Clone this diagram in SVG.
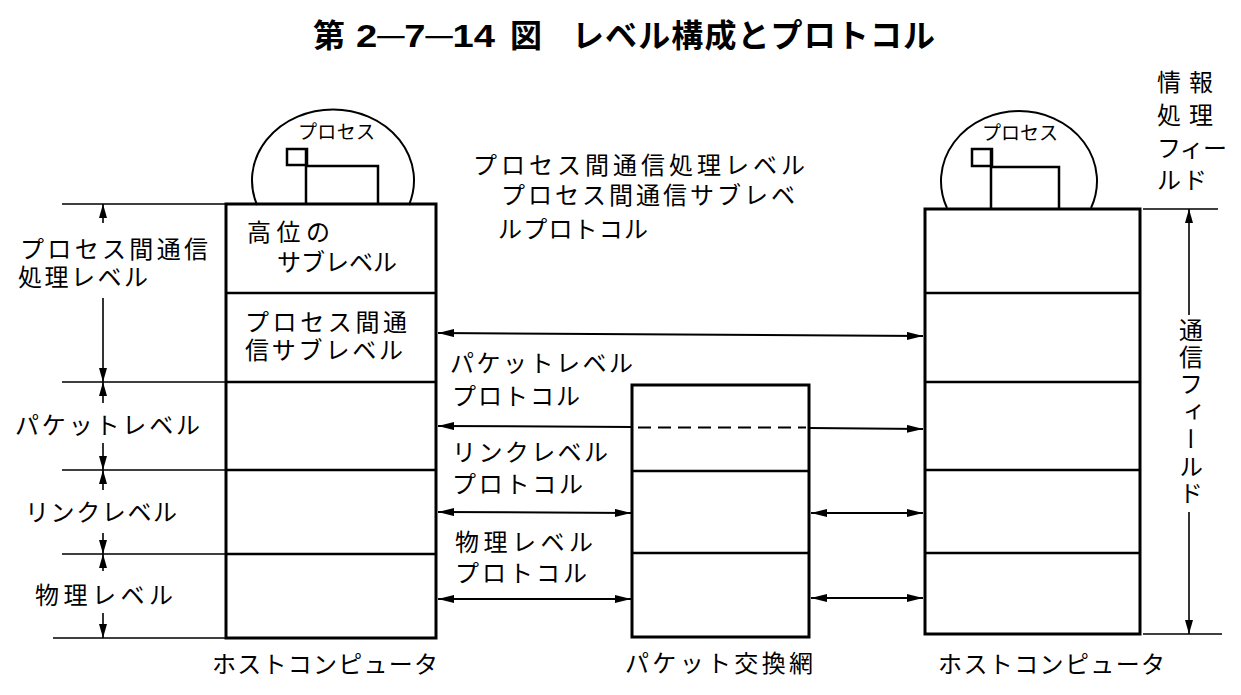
<svg xmlns="http://www.w3.org/2000/svg" width="1241" height="695" viewBox="0 0 1241 695">
<style>
.t{font-family:"Liberation Sans","Noto Sans CJK JP","Noto Sans CJK SC",sans-serif;font-size:24px;fill:#000}
.ti{font-family:"Liberation Sans","Noto Sans CJK JP","Noto Sans CJK SC",sans-serif;font-size:32px;font-weight:bold;fill:#000}
.sm{font-size:19px}
.box{fill:none;stroke:#000;stroke-width:3}
.div{stroke:#000;stroke-width:2.5;fill:none}
.thin{stroke:#000;stroke-width:1.6;fill:none}
.arc{stroke:#000;stroke-width:2;fill:none}
.arr{stroke:#000;stroke-width:2;fill:none}
</style>
<defs>
<marker id="ah" viewBox="0 0 16 8" refX="16" refY="4" markerWidth="16" markerHeight="8" markerUnits="userSpaceOnUse" orient="auto-start-reverse"><path d="M0,0 L16,4 L0,8 z" fill="#000"/></marker>
<marker id="av" viewBox="0 0 14 8" refX="14" refY="4" markerWidth="14" markerHeight="8" markerUnits="userSpaceOnUse" orient="auto-start-reverse"><path d="M0,0 L14,4 L0,8 z" fill="#000"/></marker>
</defs>
<rect width="1241" height="695" fill="#fff"/>

<text class="ti" y="46.5"><tspan x="313">第</tspan><tspan x="356" textLength="139" lengthAdjust="spacingAndGlyphs">2─7─14</tspan><tspan x="510">図</tspan><tspan x="572" textLength="363">レベル構成とプロトコル</tspan></text>

<g id="left-process">
<path class="arc" d="M257,205 A81,71 0 1,1 409,205"/>
<rect x="287" y="149" width="20" height="16" class="div"/>
<path class="div" d="M306,149 V204 M306,166 H378 V204"/>
<text class="t sm" x="298" y="139" textLength="77">プロセス</text>
</g>

<g id="right-process">
<path class="arc" d="M947,208 A78,70 0 1,1 1091,208"/>
<rect x="972" y="149" width="20" height="17" class="div"/>
<path class="div" d="M991,149 V209 M991,167 H1059 V209"/>
<text class="t sm" x="982" y="140" textLength="76">プロセス</text>
</g>

<g id="left-host">
<rect x="226" y="204" width="210" height="434" class="box"/>
<path class="div" d="M226,293 H436 M226,382 H436 M226,470 H436 M226,554 H436"/>
<text class="t" x="247" y="241" textLength="83">高位の</text>
<text class="t" x="277" y="271" textLength="120">サブレベル</text>
<text class="t" x="245" y="331" textLength="162">プロセス間通</text>
<text class="t" x="245" y="359" textLength="158">信サブレベル</text>
<text class="t" x="212" y="673" textLength="226">ホストコンピュータ</text>
</g>

<g id="packet-net">
<rect x="632" y="385" width="177" height="252" class="box"/>
<path class="div" d="M632,471 H809 M632,553 H809"/>
<path class="arr" stroke-dasharray="13,7" d="M638,427.5 H806"/>
<text class="t" x="625" y="672" textLength="188">パケット交換網</text>
</g>

<g id="right-host">
<rect x="925" y="209" width="215" height="425" class="box"/>
<path class="div" d="M925,293 H1140 M925,382 H1140 M925,470 H1140 M925,553 H1140"/>
<text class="t" x="938" y="673" textLength="227">ホストコンピュータ</text>
</g>

<g id="left-levels">
<path class="thin" d="M62,204 H226 M62,382 H226 M62,470 H226 M62,554 H226 M53,638 H226"/>
<path class="thin" marker-start="url(#av)" d="M103,204 V223"/>
<path class="thin" marker-end="url(#av)" d="M103,298 V382"/>
<path class="thin" marker-start="url(#av)" d="M103,382 V403"/>
<path class="thin" marker-end="url(#av)" d="M103,443 V470"/>
<path class="thin" marker-start="url(#av)" d="M103,470 V490"/>
<path class="thin" marker-end="url(#av)" d="M103,533 V554"/>
<path class="thin" marker-start="url(#av)" d="M103,554 V571"/>
<path class="thin" marker-end="url(#av)" d="M103,613 V638"/>
<text class="t" x="20" y="258" textLength="188">プロセス間通信</text>
<text class="t" x="18" y="286" textLength="130">処理レベル</text>
<text class="t" x="15" y="434" textLength="185">パケットレベル</text>
<text class="t" x="25" y="521" textLength="152">リンクレベル</text>
<text class="t" x="35" y="604" textLength="138">物理レベル</text>
</g>

<g id="right-fields">
<path class="thin" d="M1143,209 H1218 M1143,634 H1222"/>
<path class="thin" marker-start="url(#av)" d="M1189,209 V315"/>
<path class="thin" marker-end="url(#av)" d="M1189,512 V634"/>
<text class="t" x="1189" y="318" style="writing-mode:vertical-rl;font-size:24px" textLength="187">通信フィールド</text>
<text class="t" x="1157" y="91" textLength="56">情報</text>
<text class="t" x="1157" y="124" textLength="56">処理</text>
<text class="t" x="1157" y="157" textLength="70">フィー</text>
<text class="t" x="1157" y="189" textLength="50">ルド</text>
</g>

<g id="protocol-labels">
<text class="t" x="473" y="174" textLength="332">プロセス間通信処理レベル</text>
<text class="t" x="501" y="204" textLength="294">プロセス間通信サブレベ</text>
<text class="t" x="498" y="238" textLength="150">ルプロトコル</text>
<text class="t" x="450" y="372" textLength="183">パケットレベル</text>
<text class="t" x="452" y="405" textLength="128">プロトコル</text>
<text class="t" x="452" y="461" textLength="156">リンクレベル</text>
<text class="t" x="452" y="493" textLength="131">プロトコル</text>
<text class="t" x="455" y="551" textLength="138">物理レベル</text>
<text class="t" x="455" y="582" textLength="132">プロトコル</text>
</g>

<g id="connectors">
<path class="arr" marker-start="url(#ah)" marker-end="url(#ah)" d="M438,333 L923,336"/>
<path class="arr" marker-start="url(#ah)" d="M438,426 L632,427"/>
<path class="arr" marker-end="url(#ah)" d="M810,428 L923,429"/>
<path class="arr" marker-start="url(#ah)" marker-end="url(#ah)" d="M438,512 L631,513"/>
<path class="arr" marker-start="url(#ah)" marker-end="url(#ah)" d="M811,513 L923,513"/>
<path class="arr" marker-start="url(#ah)" marker-end="url(#ah)" d="M438,599 L631,599"/>
<path class="arr" marker-start="url(#ah)" marker-end="url(#ah)" d="M811,598 L923,598"/>
</g>
</svg>
